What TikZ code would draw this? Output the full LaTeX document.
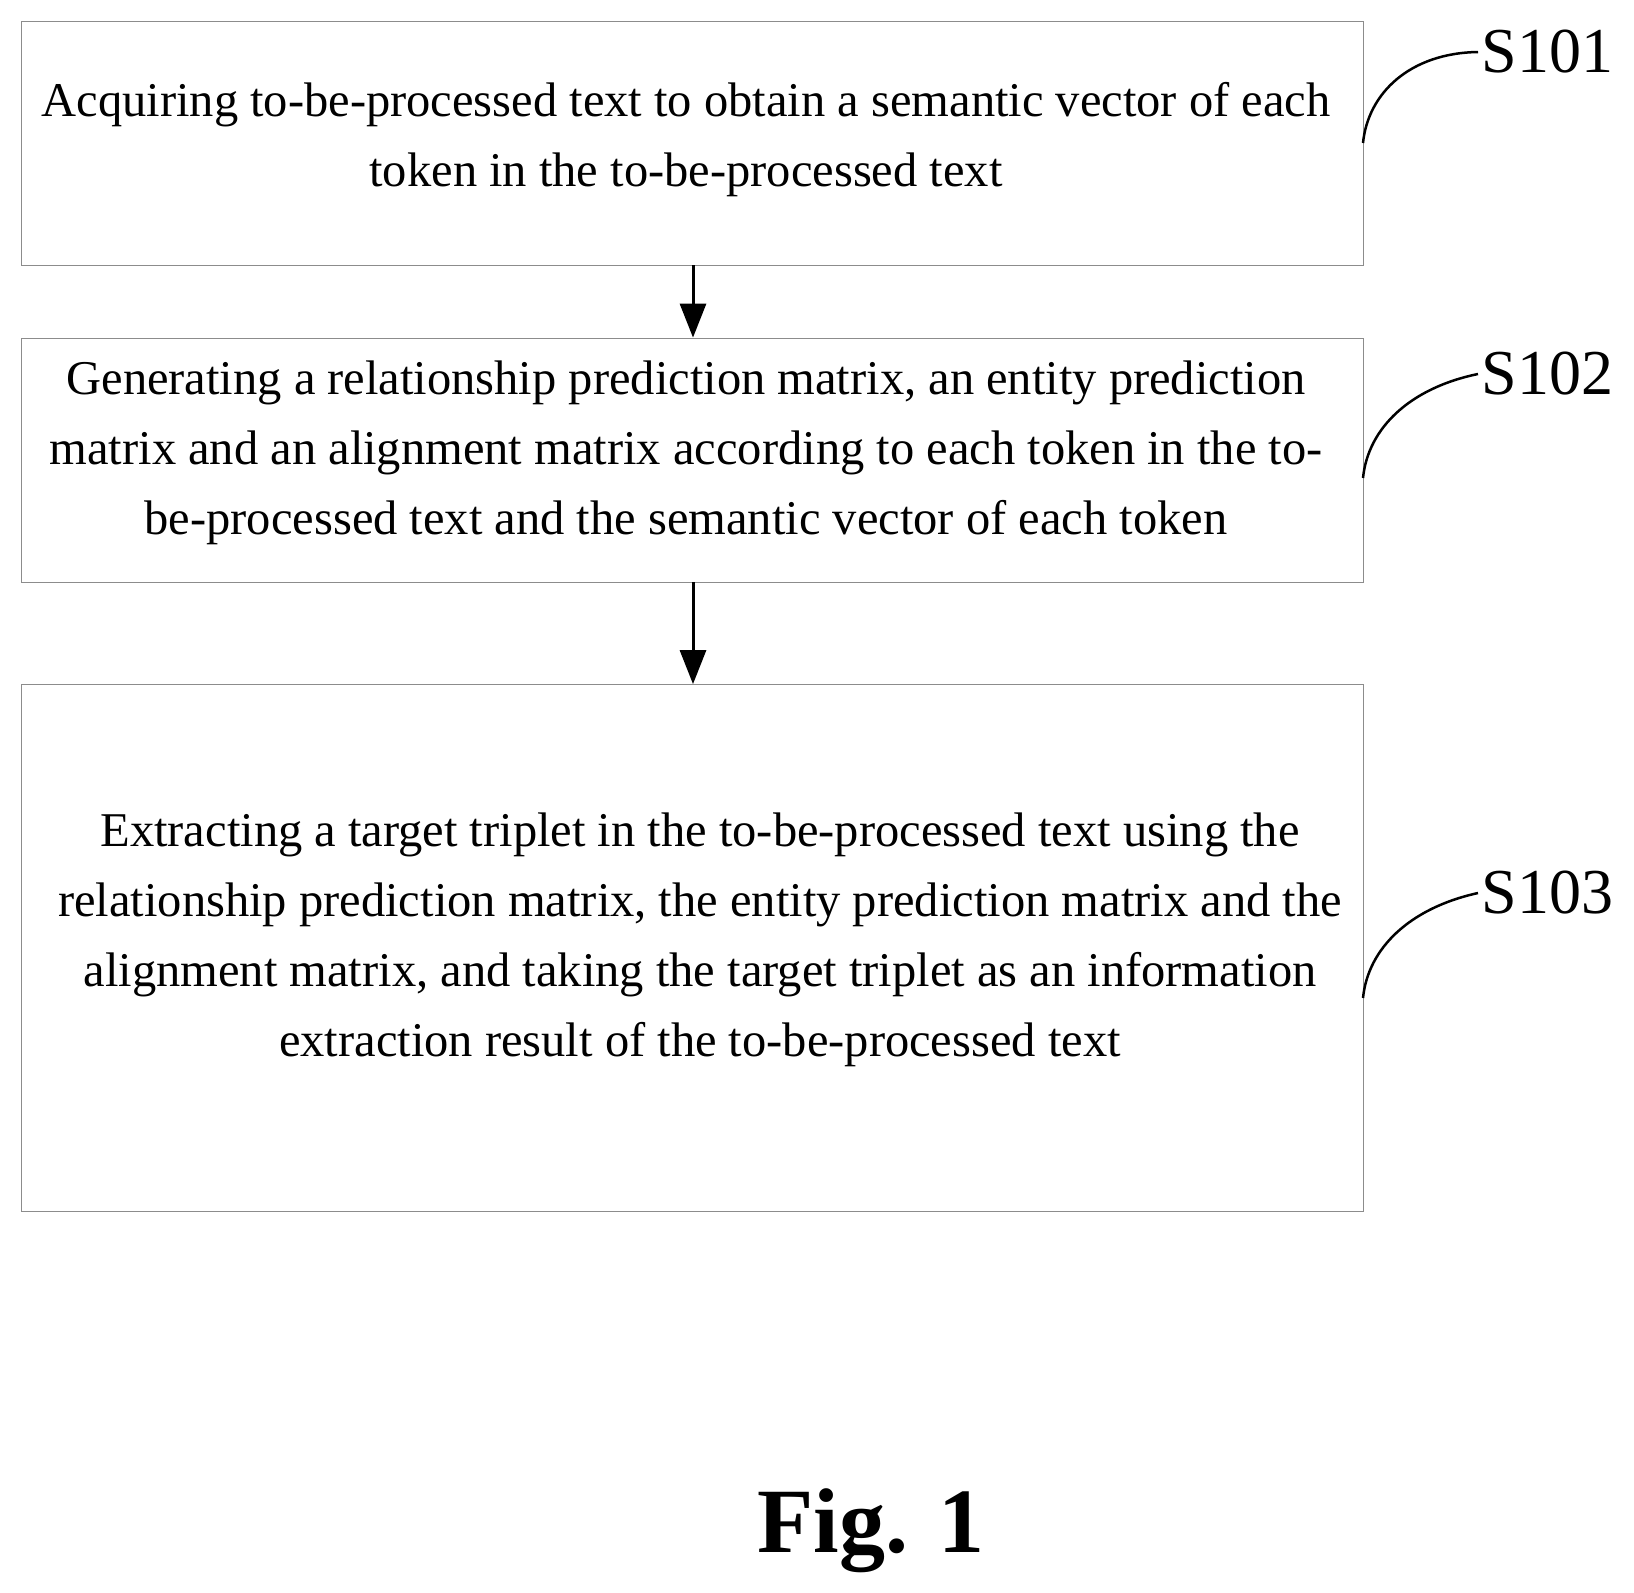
\documentclass[tikz,border=0pt]{standalone}
\usepackage{fontspec}
\setmainfont{Liberation Serif}
\usetikzlibrary{arrows.meta}
\begin{document}
\begin{tikzpicture}[x=1pt,y=-1pt,
  stepbox/.style={draw=black!45,line width=0.8pt,inner sep=0pt},
  txt/.style={align=center,font=\fontsize{48.5}{70}\selectfont},
  lbl/.style={font=\fontsize{64}{64}\selectfont,anchor=west},
  arr/.style={-{Triangle[length=34pt,width=26pt]},line width=3pt}]
\useasboundingbox (0,0) rectangle (1634,1593);
\node[stepbox,minimum width=1342pt,minimum height=244pt] (b1) at (692,143) {};
\node[stepbox,minimum width=1342pt,minimum height=244pt] (b2) at (692,460) {};
\node[stepbox,minimum width=1342pt,minimum height=527pt] (b3) at (692,948) {};
\node[txt] (t1) at (686,140) {Acquiring to-be-processed text to obtain a semantic vector of each\\token in the to-be-processed text};
\node[txt] (t2) at (686,453) {Generating a relationship prediction matrix, an entity prediction\\matrix and an alignment matrix according to each token in the to-\\be-processed text and the semantic vector of each token};
\node[txt] (t3) at (700,940) {Extracting a target triplet in the to-be-processed text using the\\relationship prediction matrix, the entity prediction matrix and the\\alignment matrix, and taking the target triplet as an information\\extraction result of the to-be-processed text};
\draw[arr] (b1.south -| 693,0) -- (b2.north -| 693,0);
\draw[arr] (b2.south -| 693,0) -- (b3.north -| 693,0);
\node[lbl] (s1) at (1478,52) {S101};
\node[lbl] (s2) at (1478,374) {S102};
\node[lbl] (s3) at (1478,893) {S103};
\foreach \n/\y in {s1/143,s2/478,s3/998}{
  \coordinate (c\n) at (1363,\y);
  \draw[line width=2.5pt] (c\n) .. controls (1368,\y-50) and (1410,\y-90) .. (\n.west);
}
\node[font=\fontsize{92}{92}\selectfont\bfseries] (fig) at (871,1531) {Fig. 1};
\end{tikzpicture}
\end{document}
